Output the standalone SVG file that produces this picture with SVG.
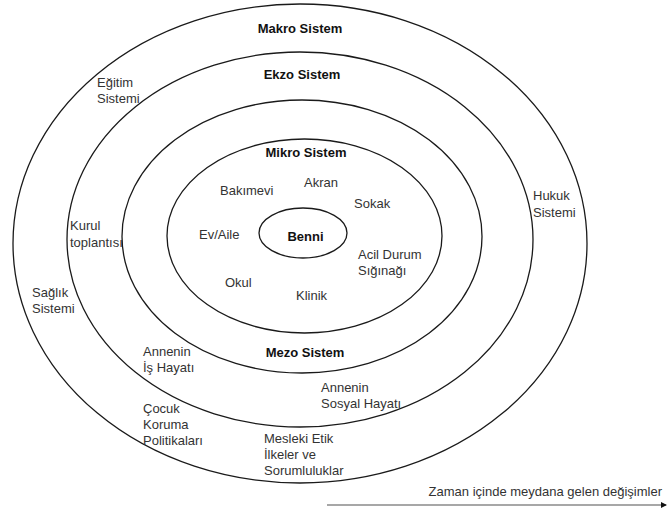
<svg xmlns="http://www.w3.org/2000/svg" width="669" height="515" viewBox="0 0 669 515">
<style>
.ring{fill:none;stroke:#1a1a1a;stroke-width:1.3}
text{font-family:"Liberation Sans",Arial,sans-serif;font-size:13px;fill:#333}
.b{font-weight:bold;fill:#111;text-anchor:middle}
</style>
<defs>
<marker id="arr" viewBox="0 0 6 6" refX="5" refY="3" markerWidth="4" markerHeight="4" orient="auto">
<path d="M0,0 L6,3 L0,6 Z" fill="#111"/>
</marker>
</defs>
<rect width="669" height="515" fill="#fff"/>
<g id="makro">
<ellipse class="ring" cx="300" cy="243.5" rx="287" ry="239.5"/>
<text class="b" x="300" y="33">Makro Sistem</text>
<text x="97" y="87">Eğitim</text><text x="97" y="103">Sistemi</text>
<text x="32" y="297">Sağlık</text><text x="32" y="313">Sistemi</text>
<text x="533" y="200">Hukuk</text><text x="533" y="217">Sistemi</text>
<text x="143" y="413">Çocuk</text><text x="143" y="429">Koruma</text><text x="143" y="445">Politikaları</text>
<text x="264" y="443">Mesleki Etik</text><text x="264" y="459">İlkeler ve</text><text x="264" y="475">Sorumluluklar</text>
</g>
<g id="ekzo">
<ellipse class="ring" cx="300" cy="239.5" rx="233" ry="187.5"/>
<text class="b" x="302" y="79">Ekzo Sistem</text>
<text x="70" y="230">Kurul</text><text x="70" y="247">toplantısı</text>
<text x="143" y="356">Annenin</text><text x="143" y="372">İş Hayatı</text>
<text x="321" y="392">Annenin</text><text x="321" y="408">Sosyal Hayatı</text>
</g>
<g id="mezo">
<ellipse class="ring" cx="302" cy="236.5" rx="180" ry="136.5"/>
<text class="b" x="305" y="357">Mezo Sistem</text>
</g>
<g id="mikro">
<ellipse class="ring" cx="304.5" cy="236" rx="137.5" ry="97"/>
<text class="b" x="306" y="157">Mikro Sistem</text>
<text x="220" y="195">Bakımevi</text>
<text x="304" y="187">Akran</text>
<text x="354" y="208">Sokak</text>
<text x="199" y="239">Ev/Aile</text>
<text x="358" y="259">Acil Durum</text><text x="358" y="275">Sığınağı</text>
<text x="225" y="287">Okul</text>
<text x="296" y="300">Klinik</text>
</g>
<g id="benni">
<ellipse class="ring" cx="303" cy="233" rx="44" ry="25"/>
<text class="b" x="305.5" y="241">Benni</text>
</g>
<g id="time">
<text x="662" y="496" style="text-anchor:end">Zaman içinde meydana gelen değişimler</text>
</g>
<g id="connectors">
<line x1="327" y1="505" x2="666" y2="505" stroke="#8a8a8a" stroke-width="1.5" marker-end="url(#arr)"/>
</g>
</svg>
